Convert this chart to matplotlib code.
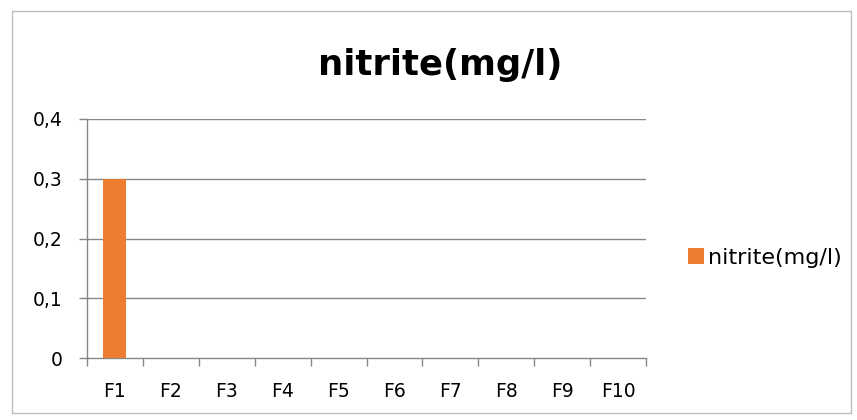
import matplotlib
matplotlib.use("Agg")
import matplotlib.pyplot as plt
from matplotlib.patches import Rectangle

categories = ["F1", "F2", "F3", "F4", "F5", "F6", "F7", "F8", "F9", "F10"]
values = [0.3, 0, 0, 0, 0, 0, 0, 0, 0, 0]
yticks = [0, 0.1, 0.2, 0.3, 0.4]
ytick_labels = ["0", "0,1", "0,2", "0,3", "0,4"]
series_name = "nitrite(mg/l)"
title = "nitrite(mg/l)"

plt.rcParams['font.family'] = ['DejaVu Sans']

W, H = 857, 420
fig = plt.figure(figsize=(W / 100, H / 100), dpi=100)
fig.patch.set_facecolor("white")

# outer chart border
fig.patches.append(Rectangle((11.5 / W, 1 - 412.5 / H), (851 - 11.5) / W, (412.5 - 10.5) / H,
                             transform=fig.transFigure, fill=False,
                             edgecolor="#bfbfbf", linewidth=1.0))

left, right, top, bottom = 87, 646, 119, 358
ax = fig.add_axes([left / W, 1 - bottom / H, (right - left) / W, (bottom - top) / H])

x = list(range(len(categories)))
bars = ax.bar(x, values, width=0.41, color="#ED7D31", label=series_name, zorder=3)

ax.set_xlim(-0.5, len(categories) - 0.5)
ax.set_ylim(0, 0.4)
ax.set_yticks(yticks)
ax.set_yticklabels(ytick_labels)
ax.set_xticks(x)
ax.set_xticklabels(categories)
ax.set_xticks([i - 0.5 for i in range(len(categories) + 1)], minor=True)

grid_col = "#868686"
for y in yticks[1:]:
    ax.axhline(y, color=grid_col, linewidth=1.0, zorder=1)

for s in ["top", "right"]:
    ax.spines[s].set_visible(False)
for s in ["left", "bottom"]:
    ax.spines[s].set_color(grid_col)
    ax.spines[s].set_linewidth(1.0)

ax.tick_params(axis="y", length=5.8, width=1.0, color=grid_col, labelsize=13.5, pad=12, labelcolor="black")
ax.tick_params(axis="x", which="major", length=0, labelsize=13.5, pad=17, labelcolor="black")
ax.tick_params(axis="x", which="minor", length=5.8, width=1.0, color=grid_col)

fig.text(440 / W, 1 - 75 / H, title, ha="center", va="baseline",
         fontsize=25.5, fontweight="bold", color="black")

leg = fig.legend(handles=[bars], labels=[series_name], loc="center left",
                 bbox_to_anchor=(688 / W, 1 - 258 / H), frameon=False,
                 fontsize=16, handlelength=0.7, handleheight=0.7,
                 handletextpad=0.2, borderaxespad=0, borderpad=0)

fig.savefig("out.png", dpi=100, facecolor="white")
